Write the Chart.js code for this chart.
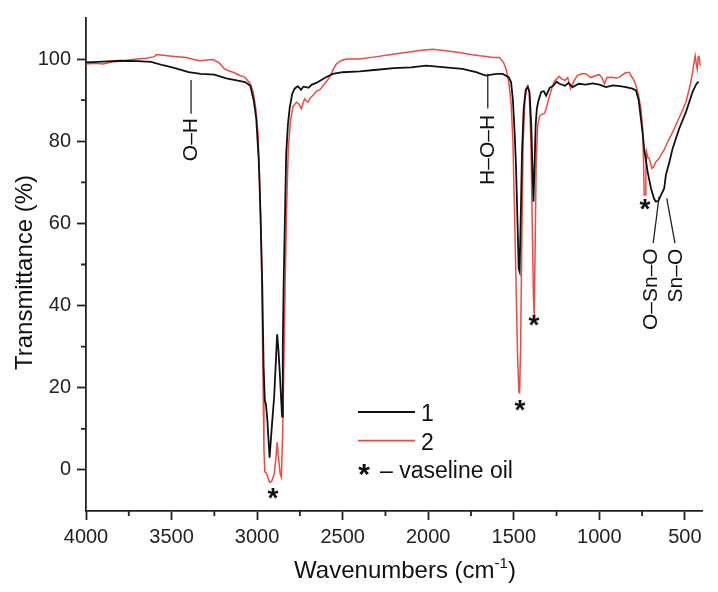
<!DOCTYPE html>
<html lang="en">
<head>
<meta charset="UTF-8" />
<title>FTIR spectra</title>
<script src="https://cdn.jsdelivr.net/npm/chart.js"></script>
<style>
  body { margin: 0; background: #fff; }
  #wrap { width: 718px; height: 592px; }
</style>
</head>
<body>
<div id="wrap"><canvas id="ftir" width="718" height="592"></canvas></div>
<script>
// spectrum 1 (black)
const wn1 = [4000, 3900, 3800, 3700, 3620, 3550, 3480, 3400, 3330, 3250, 3180, 3120, 3070, 3040, 3020, 3005,
  2990, 2980, 2970, 2962, 2955, 2948, 2940, 2927, 2915, 2900, 2883, 2875, 2868, 2858, 2854, 2850, 2845, 2838,
  2830, 2820, 2810, 2795, 2781, 2762, 2743, 2730, 2714, 2700, 2680, 2654, 2600, 2558, 2500, 2401, 2300, 2200,
  2100, 2012, 1900, 1800, 1720, 1680, 1662, 1630, 1600, 1565, 1530, 1516, 1505, 1495, 1487, 1478, 1471, 1466,
  1460, 1452, 1442, 1430, 1418, 1408, 1398, 1390, 1385, 1380, 1372, 1365, 1355, 1340, 1325, 1311, 1290, 1270,
  1250, 1233, 1200, 1180, 1156, 1120, 1080, 1039, 1000, 961, 920, 880, 844, 807, 786, 770, 757, 747, 738, 718,
  698, 680, 669, 655, 640, 621, 611, 590, 572, 553, 533, 514, 494, 475, 455, 432, 420];
const t1 = [99.2, 99.4, 99.6, 99.5, 99.3, 98.5, 97.8, 96.8, 96.4, 96.2, 95.3, 94.8, 94.4, 93.5, 90, 85.5,
  75, 62, 45, 25, 17, 15.8, 12, 3, 10, 18, 33, 29, 24, 16, 13, 30, 45, 60,
  77, 84, 88, 91.5, 92.8, 93.4, 92.5, 93.3, 93.2, 93.0, 93.8, 94.2, 95.5, 96.4, 96.8, 97.0, 97.4, 97.8,
  98.0, 98.4, 98.0, 97.6, 96.8, 96.2, 96.0, 96.2, 96.4, 96.4, 95.6, 94.4, 90, 82, 74, 60, 49, 48.3,
  60, 77, 88, 92.5, 93.2, 92, 84, 72, 65.3, 72, 84, 88, 90, 92, 92.2, 91.1, 93, 93.5,
  94.5, 94, 93.5, 94.2, 93.2, 94, 93.8, 94.1, 93.8, 93.2, 93.6, 93.4, 93.2, 92.8, 92.4, 90, 85.5, 82, 78.2, 72.6,
  68.5, 66, 65.3, 65.5, 66.9, 68.5, 71.8, 75, 78.2, 80.6, 83.1, 85, 87.1, 89.5, 92, 94, 94.5];

// spectrum 2 (red)
const wn2 = [4000, 3950, 3900, 3850, 3800, 3750, 3700, 3650, 3600, 3588, 3540, 3480, 3413, 3380, 3335, 3290,
  3257, 3220, 3190, 3170, 3140, 3100, 3072, 3040, 3023, 3008, 2994, 2985, 2975, 2965, 2960, 2955, 2945, 2935,
  2927, 2915, 2900, 2890, 2883, 2875, 2865, 2858, 2850, 2844, 2836, 2828, 2818, 2805, 2790, 2770, 2755, 2741,
  2730, 2722, 2712, 2702, 2690, 2673, 2650, 2634, 2605, 2576, 2555, 2537, 2510, 2479, 2401, 2300, 2206, 2100,
  2050, 1973, 1900, 1817, 1760, 1700, 1660, 1622, 1584, 1560, 1545, 1530, 1516, 1505, 1497, 1488, 1478, 1470,
  1466, 1460, 1452, 1445, 1435, 1425, 1418, 1410, 1400, 1392, 1385, 1380, 1375, 1369, 1360, 1350, 1340, 1322,
  1310, 1295, 1280, 1265, 1253, 1235, 1220, 1200, 1185, 1168, 1150, 1130, 1100, 1078, 1050, 1020, 1000, 985,
  970, 955, 930, 900, 883, 850, 825, 815, 800, 786, 770, 757, 747, 742, 738, 733, 728, 724, 716, 708, 700, 692,
  680, 669, 655, 640, 620, 601, 580, 553, 525, 494, 470, 455, 440, 434, 428, 422, 418, 410];
const t2 = [98.8, 99.0, 98.8, 99.3, 99.5, 99.8, 100.0, 100.2, 100.6, 101.1, 100.9, 100.6, 100.4, 100.0, 99.6, 99.8,
  99.9, 99.0, 97.6, 97.2, 96.8, 96.0, 95.6, 94, 92, 88, 81.5, 70, 53, 21, 5, -0.5, -0.8, -2,
  -3, -2.8, -1, 3, 6.7, 3, -1, -1.8, 10, 25, 45, 63, 78, 85, 88.5, 89.5, 89, 87.9,
  89.5, 90.3, 89.8, 89.5, 90.5, 91.2, 92.3, 92.5, 94, 95.6, 97.5, 98.8, 99.6, 100, 100, 100.6, 101.2, 101.8,
  102.1, 102.4, 102, 101.6, 101.2, 100.8, 100.6, 100.4, 100.4, 99.2, 97.6, 94.5, 89.5, 80, 65.3, 48, 28, 19,
  18.8, 30, 60, 80, 90, 93, 93.5, 92, 80, 60, 42, 37.4, 55, 75, 84, 86, 86.5, 86.7,
  88, 90.5, 92.5, 94.5, 95, 95.8, 95.2, 94.8, 95.5, 92.8, 94.5, 96, 96.5, 96.4, 95.5, 96, 96.2, 95.5,
  94, 95.5, 95.6, 95.4, 95.6, 96.6, 96.8, 96, 95, 93.6, 91, 87.9, 83.1, 76, 66.9, 67, 72, 77.4, 76, 75.8, 74.5, 73.4,
  74, 75, 75.6, 76.6, 78, 79.8, 81.5, 83.9, 86.5, 89.5, 93.5, 96.8, 100.8, 99, 97.6, 100.5, 100.8, 98.4];

const seriesNames = ['1', '2'];
const xTicks = [4000, 3500, 3000, 2500, 2000, 1500, 1000, 500];
const xMinor = [3750, 3250, 2750, 2250, 1750, 1250, 750];
const yTicks = [0, 20, 40, 60, 80, 100];
const yMinor = [10, 30, 50, 70, 90];

// band assignments: text centre and connector line in data units
const bands = [
  { text: 'O–H', x: 3386, y: 80.4, line: [[3386, 94.9], [3386, 86.7]] },
  { text: 'H–O–H', x: 1652, y: 77.9, line: [[1652, 96.4], [1652, 88.0]] },
  { text: 'O–Sn–O', x: 694, y: 44.0, line: [[651, 66.5], [685, 55.2]] },
  { text: 'Sn–O', x: 548, y: 47.3, line: [[606, 66.1], [558, 55.2]] }
];
// vaseline oil bands
const oilMarks = [[2907, -6.2], [1464, 15.2], [1382, 36.0], [733, 64.1]];

const FONT = '"Liberation Sans", Arial, sans-serif';
const colors = ['#111111', '#ec4a43'];

function drawStar(ctx, x, y, size) {
  ctx.font = 'bold ' + size + 'px ' + FONT;
  ctx.textAlign = 'center';
  ctx.textBaseline = 'alphabetic';
  ctx.fillText('*', x, y + size * 0.42);
}

const decor = {
  id: 'decor',
  afterDraw(chart) {
    const { ctx, chartArea: area, scales: { x, y } } = chart;
    ctx.save();
    ctx.strokeStyle = '#222';
    ctx.fillStyle = '#111';
    ctx.lineWidth = 1.8;

    // minor ticks
    ctx.beginPath();
    xMinor.forEach(v => {
      const px = x.getPixelForValue(v);
      ctx.moveTo(px, area.bottom);
      ctx.lineTo(px, area.bottom + 5);
    });
    yMinor.forEach(v => {
      const py = y.getPixelForValue(v);
      ctx.moveTo(area.left, py);
      ctx.lineTo(area.left - 5, py);
    });
    ctx.stroke();

    // band labels
    ctx.lineWidth = 1.3;
    ctx.font = '21px ' + FONT;
    bands.forEach(b => {
      ctx.beginPath();
      ctx.moveTo(x.getPixelForValue(b.line[0][0]), y.getPixelForValue(b.line[0][1]));
      ctx.lineTo(x.getPixelForValue(b.line[1][0]), y.getPixelForValue(b.line[1][1]));
      ctx.stroke();
      ctx.save();
      ctx.translate(x.getPixelForValue(b.x), y.getPixelForValue(b.y));
      ctx.rotate(-Math.PI / 2);
      ctx.textAlign = 'center';
      ctx.textBaseline = 'middle';
      ctx.fillText(b.text, 0, 0);
      ctx.restore();
    });

    oilMarks.forEach(m => drawStar(ctx, x.getPixelForValue(m[0]), y.getPixelForValue(m[1]), 28));

    // legend
    const lx = area.left + 272, ly = area.top + 394;
    ctx.font = '23px ' + FONT;
    ctx.textAlign = 'left';
    ctx.textBaseline = 'alphabetic';
    seriesNames.forEach((name, i) => {
      const yy = ly + i * 28.7;
      ctx.strokeStyle = colors[i];
      ctx.lineWidth = 1.8;
      ctx.beginPath();
      ctx.moveTo(lx, yy);
      ctx.lineTo(lx + 57, yy);
      ctx.stroke();
      ctx.fillText(name, lx + 63, yy + 9);
    });
    drawStar(ctx, lx + 6, ly + 59, 30);
    ctx.font = '23px ' + FONT;
    ctx.textAlign = 'left';
    ctx.fillText('– vaseline oil', lx + 22, ly + 66);

    // axis titles
    ctx.fillStyle = '#111';
    ctx.font = '24px ' + FONT;
    ctx.save();
    ctx.translate(25, (area.top + area.bottom) / 2 + 8);
    ctx.rotate(-Math.PI / 2);
    ctx.textAlign = 'center';
    ctx.textBaseline = 'middle';
    ctx.fillText('Transmittance (%)', 0, 0);
    ctx.restore();

    const main = 'Wavenumbers (cm', sup = '-1', tail = ')';
    ctx.font = '24px ' + FONT;
    const wMain = ctx.measureText(main).width, wTail = ctx.measureText(tail).width;
    ctx.font = '15px ' + FONT;
    const wSup = ctx.measureText(sup).width;
    let tx = (area.left + area.right) / 2 + 11 - (wMain + wSup + wTail) / 2;
    const base = 578;
    ctx.textAlign = 'left';
    ctx.font = '24px ' + FONT;
    ctx.fillText(main, tx, base);
    tx += wMain;
    ctx.font = '15px ' + FONT;
    ctx.fillText(sup, tx, base - 10);
    tx += wSup;
    ctx.font = '24px ' + FONT;
    ctx.fillText(tail, tx, base);
    ctx.restore();
  }
};

const toPoints = (xs, ys) => xs.map((v, i) => ({ x: v, y: ys[i] }));

new Chart(document.getElementById('ftir'), {
  type: 'line',
  data: {
    datasets: [
      { label: seriesNames[0], data: toPoints(wn1, t1), borderColor: colors[0], borderWidth: 1.8 },
      { label: seriesNames[1], data: toPoints(wn2, t2), borderColor: colors[1], borderWidth: 1.5 }
    ]
  },
  options: {
    responsive: false,
    devicePixelRatio: 1,
    animation: false,
    layout: { padding: { top: 15, right: 16, left: 0, bottom: 0 } },
    elements: { point: { radius: 0 }, line: { tension: 0 } },
    plugins: { legend: { display: false }, tooltip: { enabled: false } },
    scales: {
      x: {
        type: 'linear',
        reverse: true,
        min: 400,
        max: 4000,
        afterBuildTicks: s => { s.ticks = xTicks.map(v => ({ value: v })); },
        afterFit: s => { s.height = 81; },
        border: { color: '#222', width: 1.8 },
        grid: { drawOnChartArea: false, tickLength: 9, tickColor: '#222', tickWidth: 1.8 },
        ticks: { color: '#222', padding: 5, maxRotation: 0, font: { family: FONT, size: 20 },
          callback: v => String(v) }
      },
      y: {
        min: -10,
        max: 110,
        afterBuildTicks: s => { s.ticks = yTicks.map(v => ({ value: v })); },
        afterFit: s => { s.width = 86; },
        border: { color: '#222', width: 1.8 },
        grid: { drawOnChartArea: false, tickLength: 9, tickColor: '#222', tickWidth: 1.8 },
        ticks: { color: '#222', padding: 6, font: { family: FONT, size: 20 },
          callback: v => String(v) }
      }
    }
  },
  plugins: [decor]
});
</script>
</body>
</html>
